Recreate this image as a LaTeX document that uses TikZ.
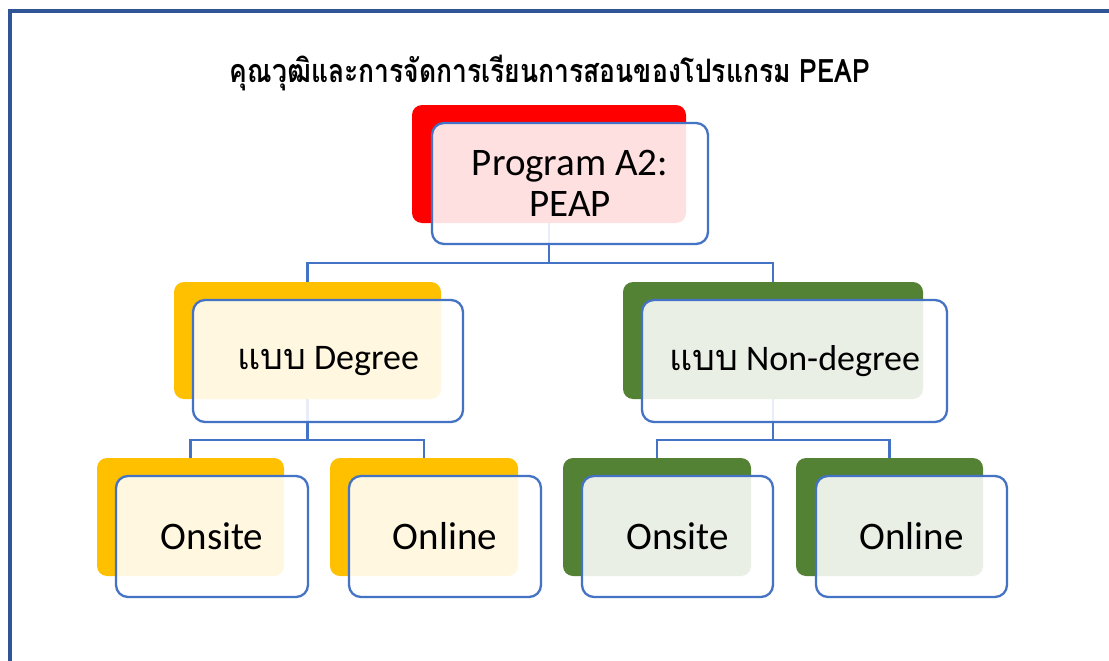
\documentclass[tikz,border=0pt]{standalone}
\usepackage{fontspec}
\usepackage{graphicx}
\setmainfont{Carlito}
\newfontfamily\thaifont[Script=Thai]{Loma}
\usetikzlibrary{backgrounds}
\definecolor{framecol}{HTML}{2F5597}
\definecolor{linecol}{HTML}{4472C4}
\definecolor{redc}{HTML}{FF0000}
\definecolor{yelc}{HTML}{FFC000}
\definecolor{grnc}{HTML}{548235}
\tikzset{
  backbox/.style={rounded corners=10pt, inner sep=0pt, draw=none},
  frontbox/.style={rounded corners=12pt, inner sep=0pt, draw=linecol, line width=2.3pt,
    fill=white, fill opacity=0.88, text opacity=1, align=center},
  conn/.style={draw=linecol, line width=2.3pt},
  lvlone/.style={font=\fontsize{39}{41}\selectfont},
  lvltwo/.style={font=\fontsize{36}{40}\selectfont},
  lvlthree/.style={font=\fontsize{39}{41}\selectfont},
}
\begin{document}
\begin{tikzpicture}[x=1pt,y=-1pt]
\useasboundingbox (0,0) rectangle (1109,661);
\begin{scope}[on background layer]
\fill[white] (0,0) rectangle (1109,661);
\end{scope}
\draw[framecol, line width=3.5pt] (10,11) rectangle (1125,680);
% title
\node[font=\thaifont\bfseries\fontsize{26.5}{30}\selectfont] (title) at (550,73)
  {\scalebox{1}[1.22]{คุณวุฒิและการจัดการเรียนการสอนของโปรแกรม PEAP}};
% back boxes
\node[backbox, fill=redc, minimum width=274pt, minimum height=118pt] (topb) at (549,164) {};
\node[backbox, fill=yelc, minimum width=267pt, minimum height=117pt] (degb) at (307.5,340.5) {};
\node[backbox, fill=grnc, minimum width=300pt, minimum height=117pt] (nonb) at (773,340.5) {};
\node[backbox, fill=yelc, minimum width=187pt, minimum height=118pt] (d1b) at (190.5,517) {};
\node[backbox, fill=yelc, minimum width=188pt, minimum height=118pt] (d2b) at (424,517) {};
\node[backbox, fill=grnc, minimum width=188pt, minimum height=118pt] (n1b) at (657,517) {};
\node[backbox, fill=grnc, minimum width=187pt, minimum height=118pt] (n2b) at (889.5,517) {};
% connectors behind
\coordinate (barA) at (549,263);
\coordinate (barB) at (307.5,440);
\coordinate (barC) at (773,440);
\begin{scope}[on background layer]
\draw[conn] (topb.center) -- (barA) -| (degb.center);
\draw[conn] (barA) -| (nonb.center);
\draw[conn] (degb.center) -- (barB) -| (d1b.center);
\draw[conn] (barB) -| (d2b.center);
\draw[conn] (nonb.center) -- (barC) -| (n1b.center);
\draw[conn] (barC) -| (n2b.center);
\end{scope}
% front boxes
\node[frontbox, lvlone, minimum width=276pt, minimum height=121pt] (topf) at (570,183.5) {Program A2:\\PEAP};
\node[frontbox, lvltwo, minimum width=270pt, minimum height=122pt] (degf) at (328,361) {{\thaifont แบบ} Degree};
\node[frontbox, lvltwo, minimum width=305pt, minimum height=122pt] (nonf) at (794.5,361) {{\thaifont แบบ} Non-degree};
\node[frontbox, lvlthree, minimum width=192pt, minimum height=121pt] (d1f) at (212,536.5) {Onsite};
\node[frontbox, lvlthree, minimum width=192pt, minimum height=121pt] (d2f) at (445,536.5) {Online};
\node[frontbox, lvlthree, minimum width=191pt, minimum height=121pt] (n1f) at (677.5,536.5) {Onsite};
\node[frontbox, lvlthree, minimum width=191pt, minimum height=121pt] (n2f) at (911.5,536.5) {Online};
\end{tikzpicture}
\end{document}
